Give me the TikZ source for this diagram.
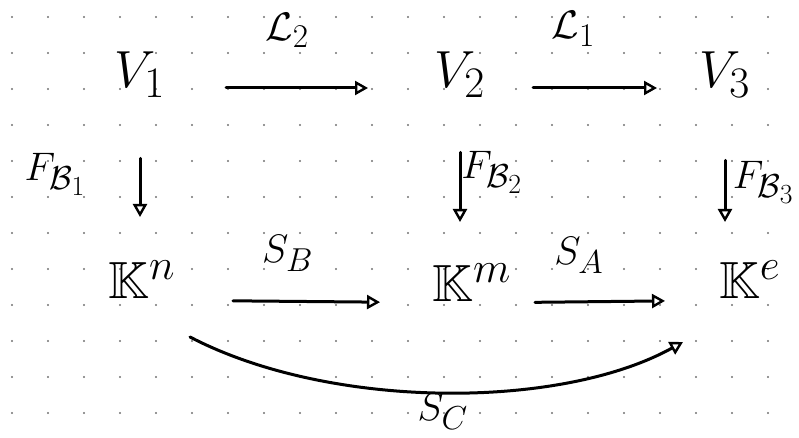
\documentclass[tikz,border=0pt]{standalone}
\usepackage{amsmath,amssymb}
\usetikzlibrary{arrows.meta}
\begin{document}
\begin{tikzpicture}[
        x=1pt, y=-1pt,
        obj/.style={font=\Huge, scale=2.1, inner sep=1pt},
        lbl/.style={font=\Huge, scale=1.6, inner sep=1pt},
        map/.style={line width=3pt, line cap=round, -{Triangle[open, length=13pt, width=14pt, line width=2.4pt]}},
        dot/.style={fill=black!55},
    ]
        % Dotted paper
        \useasboundingbox (0,0) rectangle (799,438);
        \foreach \i in {0,...,21}
            \foreach \j in {0,...,11}
                \fill[dot] (12+36*\i, 17+36*\j) circle (1.1pt);

        % Vector spaces
        \node[obj] (v1) at (140,75) {$V_1$};
        \node[obj] (v2) at (460,75) {$V_2$};
        \node[obj] (v3) at (725,75) {$V_3$};

        % Coordinate spaces
        \node[obj] (kn) at (142,280) {$\mathbb{K}^n$};
        \node[obj] (km) at (472,283) {$\mathbb{K}^m$};
        \node[obj] (ke) at (750,280) {$\mathbb{K}^e$};

        % Top row (label shifts are scaled by the node)
        \draw[map, shorten <=86pt, shorten >=92pt] ([yshift=-13pt]v1.center) -- node[lbl, xshift=-8pt, yshift=36pt] (l2) {$\mathcal{L}_2$} ([yshift=-13pt]v2.center);
        \draw[map, shorten <=73pt, shorten >=68pt] ([yshift=-13pt]v2.center) -- node[lbl, xshift=-12pt, yshift=37pt] (l1) {$\mathcal{L}_1$} ([yshift=-13pt]v3.center);

        % Coordinate maps
        \draw[map, shorten <=58pt, shorten >=63pt] (v1) -- node[lbl, xshift=-53pt, yshift=10pt] (f1) {$F_{\mathcal{B}_1}$} (v1 |- kn);
        \draw[map, shorten <=52pt, shorten >=61pt] (v2) -- node[lbl, xshift=20pt, yshift=12pt] (f2) {$F_{\mathcal{B}_2}$} (v2 |- km);
        \draw[map, shorten <=60pt, shorten >=58pt] (v3) -- node[lbl, xshift=24pt, yshift=5pt] (f3) {$F_{\mathcal{B}_3}$} (v3 |- ke);

        % Bottom row
        \draw[map, shorten <=91pt, shorten >=92pt] ([yshift=-20pt]kn.center) -- node[lbl, xshift=-12pt, yshift=30pt] (sb) {$S_B$} ([yshift=-20pt]km.center);
        \draw[map, shorten <=63pt, shorten >=85pt] ([yshift=-20pt]km.center) -- node[lbl, xshift=-20pt, yshift=29pt] (sa) {$S_A$} ([yshift=-20pt]ke.center);
        \draw[map] ([shift={(48,57)}]kn.center) .. controls (330,410) and (560,410) .. node[lbl, yshift=-12pt] (sc) {$S_C$} ([shift={(-67,62)}]ke.center);

    \end{tikzpicture}
\end{document}
